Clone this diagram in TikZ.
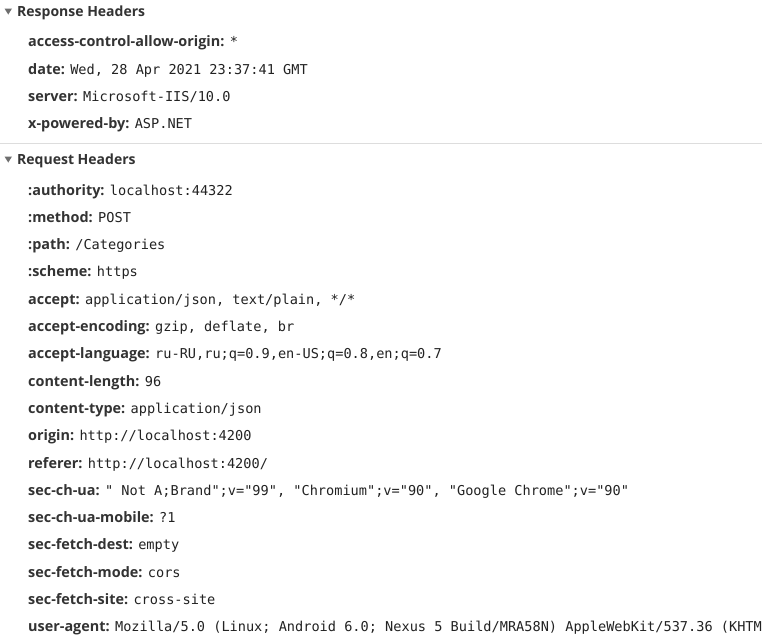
\documentclass[tikz,border=0pt]{standalone}
\usepackage{fontspec}
\setsansfont{Open Sans}
\newfontfamily\monofont{DejaVu Sans Mono}[WordSpace={1,0,0}]
\usetikzlibrary{positioning}
\definecolor{keygray}{HTML}{333333}
\definecolor{valgray}{HTML}{222222}
\definecolor{caretgray}{HTML}{6E6E6E}
\definecolor{rulegray}{HTML}{DDDDDD}
\frenchspacing
\begin{document}
\begin{tikzpicture}[x=1pt,y=-1pt,
  secttitle/.style={inner sep=0pt,anchor=base west,text=keygray,font=\sffamily\bfseries\fontsize{14}{16}\selectfont},
  hkey/.style={inner sep=0pt,anchor=base west,text=keygray,font=\sffamily\bfseries\fontsize{14.4}{16}\selectfont},
  hval/.style={inner sep=0pt,text=valgray,font=\monofont\fontsize{13.6}{16}\selectfont},
  caret/.style={fill=caretgray}]
\useasboundingbox (0,0) rectangle (762,643);
\fill[white] (0,0) rectangle (762,643);
\clip (0,0) rectangle (762,643);
%Response headers
\fill[caret] (4.5,8.5) -- (12,8.5) -- (8.25,14.5) -- cycle;
\node[secttitle] (resp) at (17,16) {Response Headers};
\node[hkey] (acao) at (28,46.5) {access-control-allow-origin:};
\node[hval, base right=5pt of acao] (acaov) {*};
\node[hkey] (date) at (28,74) {date:};
\node[hval, base right=5pt of date] (datev) {Wed, 28 Apr 2021 23:37:41 GMT};
\node[hkey] (server) at (28,101) {server:};
\node[hval, base right=5pt of server] (serverv) {Microsoft-IIS/10.0};
\node[hkey] (xpb) at (28,128) {x-powered-by:};
\node[hval, base right=5pt of xpb] (xpbv) {ASP.NET};
%Separator
\draw[rulegray] (0,143) -- (762,143);
%Request headers
\fill[caret] (4.5,156.5) -- (12,156.5) -- (8.25,162.5) -- cycle;
\node[secttitle] (req) at (17,164.5) {Request Headers};
\node[hkey] (auth) at (28,195) {:authority:};
\node[hval, base right=5pt of auth] (authv) {localhost:44322};
\node[hkey] (method) at (28,222.3) {:method:};
\node[hval, base right=5pt of method] (methodv) {POST};
\node[hkey] (path) at (28,249.6) {:path:};
\node[hval, base right=5pt of path] (pathv) {/Categories};
\node[hkey] (scheme) at (28,276.9) {:scheme:};
\node[hval, base right=5pt of scheme] (schemev) {https};
\node[hkey] (accept) at (28,304.2) {accept:};
\node[hval, base right=5pt of accept] (acceptv) {application/json, text/plain, */*};
\node[hkey] (acenc) at (28,331.5) {accept-encoding:};
\node[hval, base right=5pt of acenc] (acencv) {gzip, deflate, br};
\node[hkey] (aclang) at (28,358.8) {accept-language:};
\node[hval, base right=5pt of aclang] (aclangv) {ru-RU,ru;q=0.9,en-US;q=0.8,en;q=0.7};
\node[hkey] (clen) at (28,386.1) {content-length:};
\node[hval, base right=5pt of clen] (clenv) {96};
\node[hkey] (ctype) at (28,413.4) {content-type:};
\node[hval, base right=5pt of ctype] (ctypev) {application/json};
\node[hkey] (origin) at (28,440.7) {origin:};
\node[hval, base right=5pt of origin] (originv) {http://localhost:4200};
\node[hkey] (referer) at (28,468) {referer:};
\node[hval, base right=5pt of referer] (refererv) {http://localhost:4200/};
\node[hkey] (chua) at (28,495.3) {sec-ch-ua:};
\node[hval, base right=5pt of chua] (chuav) {" Not A;Brand";v="99", "Chromium";v="90", "Google Chrome";v="90"};
\node[hkey] (chmob) at (28,522.6) {sec-ch-ua-mobile:};
\node[hval, base right=5pt of chmob] (chmobv) {?1};
\node[hkey] (fdest) at (28,549.9) {sec-fetch-dest:};
\node[hval, base right=5pt of fdest] (fdestv) {empty};
\node[hkey] (fmode) at (28,577.2) {sec-fetch-mode:};
\node[hval, base right=5pt of fmode] (fmodev) {cors};
\node[hkey] (fsite) at (28,604.5) {sec-fetch-site:};
\node[hval, base right=5pt of fsite] (fsitev) {cross-site};
\node[hkey] (uagent) at (28,631.8) {user-agent:};
\node[hval, base right=5pt of uagent] (uagentv) {Mozilla/5.0 (Linux; Android 6.0; Nexus 5 Build/MRA58N) AppleWebKit/537.36 (KHTM};
\end{tikzpicture}
\end{document}
